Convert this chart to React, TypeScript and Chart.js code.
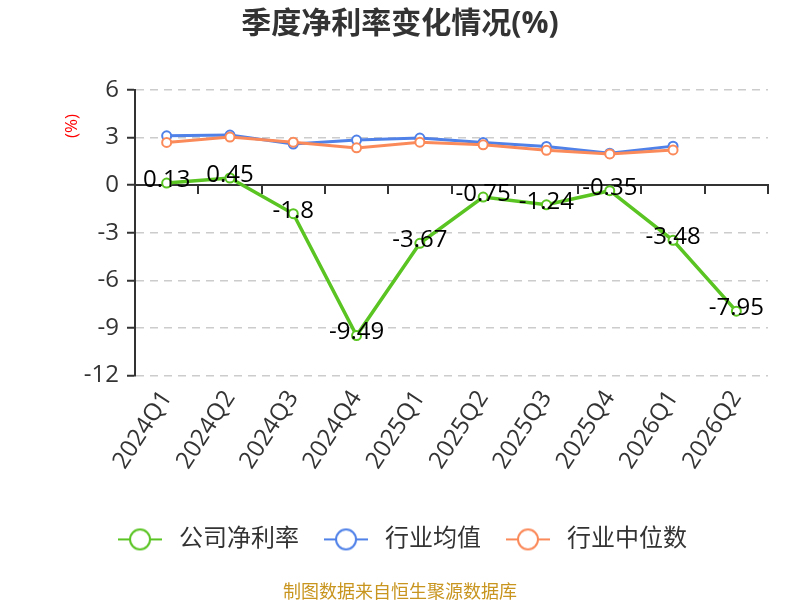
import { useEffect, useRef } from "react"
import { Chart, registerables, type ChartConfiguration, type Plugin } from "chart.js"

Chart.register(...registerables)

const quarters = ["2024Q1", "2024Q2", "2024Q3", "2024Q4", "2025Q1", "2025Q2", "2025Q3", "2025Q4", "2026Q1", "2026Q2"]
const companyMargin = [0.13, 0.45, -1.8, -9.49, -3.67, -0.75, -1.24, -0.35, -3.48, -7.95]
const industryMean = [3.11, 3.16, 2.59, 2.84, 2.97, 2.69, 2.44, 2.01, 2.46, null]
const industryMedian = [2.69, 3.03, 2.71, 2.35, 2.71, 2.54, 2.2, 1.97, 2.22, null]
const yTicks = [6, 3, 0, -3, -6, -9, -12]
const seriesNames = ["公司净利率", "行业均值", "行业中位数"]
const seriesColors = ["#5ac423", "#4f81e8", "#fb8a5a"]

const FONT = '"Open Sans", "Noto Sans CJK SC", sans-serif'

function legendMarker(color: string) {
  const c = document.createElement("canvas")
  c.width = 44
  c.height = 26
  const ctx = c.getContext("2d")
  if (!ctx) return c
  ctx.strokeStyle = color
  ctx.lineWidth = 2
  ctx.beginPath()
  ctx.moveTo(0, 13)
  ctx.lineTo(44, 13)
  ctx.stroke()
  ctx.beginPath()
  ctx.arc(22, 13, 10, 0, Math.PI * 2)
  ctx.fillStyle = "#fff"
  ctx.fill()
  ctx.stroke()
  return c
}

// value labels for the company series, centred on each point
const valueLabels: Plugin<"line"> = {
  id: "valueLabels",
  afterDatasetsDraw(chart) {
    const meta = chart.getDatasetMeta(0)
    const ctx = chart.ctx
    ctx.save()
    ctx.font = `24px ${FONT}`
    ctx.fillStyle = "#000"
    ctx.textAlign = "center"
    ctx.textBaseline = "middle"
    meta.data.forEach((pt, i) => {
      ctx.fillText(String(companyMargin[i]), pt.x, pt.y - 3)
    })
    ctx.restore()
  },
}

// small red unit label next to the y axis
const unitLabel: Plugin<"line"> = {
  id: "unitLabel",
  afterDraw(chart) {
    const { ctx, chartArea } = chart
    ctx.save()
    ctx.translate(chartArea.left - 63, chartArea.top + 36)
    ctx.rotate(-Math.PI / 2)
    ctx.font = `17px ${FONT}`
    ctx.fillStyle = "#ff0000"
    ctx.textAlign = "center"
    ctx.textBaseline = "middle"
    ctx.fillText("(%)", 0, 0)
    ctx.restore()
  },
}

export default function App() {
  const chartRef = useRef<HTMLCanvasElement>(null)

  useEffect(() => {
    document.body.style.margin = "0"
    if (!chartRef.current) return
    const ctx = chartRef.current.getContext("2d")
    if (!ctx) return

    const markers = seriesColors.map(legendMarker)
    const series = [companyMargin, industryMean, industryMedian]
    const drawOrder = [0, 2, 1]

    const config: ChartConfiguration<"line"> = {
      type: "line",
      data: {
        labels: quarters,
        datasets: series.map((values, i) => ({
          label: seriesNames[i],
          data: values,
          borderColor: seriesColors[i],
          backgroundColor: seriesColors[i],
          borderWidth: i === 0 ? 3.5 : 3,
          pointRadius: 4.5,
          pointBorderWidth: 2,
          pointBackgroundColor: "#fff",
          pointBorderColor: seriesColors[i],
          tension: 0,
          order: drawOrder[i],
        })),
      },
      options: {
        responsive: false,
        animation: false,
        layout: { padding: 0 },
        plugins: {
          title: {
            display: true,
            text: "季度净利率变化情况(%)",
            color: "#333",
            font: { family: FONT, size: 30, weight: "bold" },
            padding: { top: 6, bottom: 48 },
          },
          subtitle: {
            display: true,
            position: "bottom",
            text: "制图数据来自恒生聚源数据库",
            color: "#c8951f",
            font: { family: FONT, size: 18 },
            padding: { top: 21, bottom: -4 },
          },
          legend: {
            position: "bottom",
            labels: {
              usePointStyle: true,
              pointStyleWidth: 54,
              boxHeight: 24,
              padding: 20,
              color: "#333",
              font: { family: FONT, size: 24 },
              generateLabels(chart) {
                const items = Chart.defaults.plugins.legend.labels.generateLabels(chart)
                items.sort((a, b) => (a.datasetIndex ?? 0) - (b.datasetIndex ?? 0))
                items.forEach((it) => {
                  it.pointStyle = markers[it.datasetIndex ?? 0]
                })
                return items
              },
            },
          },
          tooltip: { enabled: false },
        },
        scales: {
          x: {
            type: "category",
            offset: true,
            grid: { display: false },
            border: { display: false },
            ticks: {
              color: "#333",
              font: { family: FONT, size: 24 },
              minRotation: 57,
              maxRotation: 57,
              padding: 2,
            },
            afterFit(scale) {
              scale.height = 132
            },
          },
          x0: {
            type: "category",
            position: { y: 0 },
            offset: true,
            grid: {
              offset: true,
              drawOnChartArea: false,
              color: "#333",
              lineWidth: 2,
              tickLength: 8,
            },
            border: { color: "#333", width: 2 },
            ticks: { display: false },
          },
          y: {
            min: Math.min(...yTicks),
            max: Math.max(...yTicks),
            ticks: {
              stepSize: 3,
              color: "#333",
              font: { family: FONT, size: 24 },
              padding: 8,
            },
            grid: {
              color: "#ccc",
              lineWidth: 1.5,
              tickColor: "#333",
              tickLength: 8,
              tickWidth: 2,
            },
            border: { display: true, color: "#333", width: 2, dash: [8, 6] },
            afterFit(scale) {
              scale.width = 135
            },
          },
          // empty right-hand gutter so the plot ends where the reference does
          gutter: {
            type: "linear",
            position: "right",
            grid: { display: false },
            border: { display: false },
            ticks: { display: false },
            afterFit(scale) {
              scale.width = 32
            },
          },
        },
      },
      plugins: [valueLabels, unitLabel],
    }

    const chart = new Chart(ctx, config)
    return () => chart.destroy()
  }, [])

  return (
    <div style={{ width: 800, height: 600 }}>
      <canvas ref={chartRef} width={800} height={600} />
    </div>
  )
}
